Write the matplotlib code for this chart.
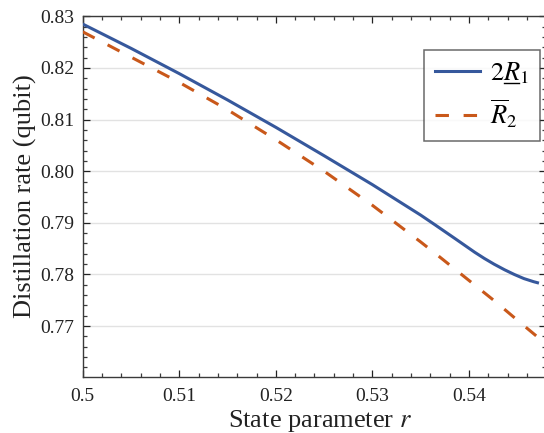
import matplotlib
matplotlib.use("Agg")
import matplotlib.pyplot as plt
from matplotlib.lines import Line2D
import numpy as np

# Values
r_vals = [0.500, 0.505, 0.510, 0.515, 0.520, 0.525, 0.530, 0.535, 0.5365,
          0.5386, 0.5406, 0.5416, 0.5426, 0.5437, 0.5447, 0.5457, 0.5467, 0.5471]
rate_2R1 = [0.8285, 0.8238, 0.8189, 0.8138, 0.8085, 0.8030, 0.7974, 0.7915, 0.7896,
            0.7869, 0.7843, 0.7831, 0.7820, 0.7809, 0.7800, 0.7792, 0.7786, 0.7784]

r_vals_2 = [0.500, 0.505, 0.510, 0.515, 0.520, 0.525, 0.530, 0.535, 0.5367,
            0.5387, 0.5409, 0.5427, 0.5453, 0.5471]
rate_R2 = [0.8270, 0.8221, 0.8172, 0.8119, 0.8061, 0.8000, 0.7934, 0.7863, 0.7838,
           0.7808, 0.7775, 0.7748, 0.7707, 0.7679]

x_ticks = [0.50, 0.51, 0.52, 0.53, 0.54]
x_tick_labels = ["0.5", "0.51", "0.52", "0.53", "0.54"]
y_ticks = [0.77, 0.78, 0.79, 0.80, 0.81, 0.82, 0.83]
y_tick_labels = ["0.77", "0.78", "0.79", "0.80", "0.81", "0.82", "0.83"]

plt.rcParams['font.family'] = ['Liberation Serif', 'DejaVu Serif']
plt.rcParams['mathtext.fontset'] = 'stix'

blue = '#36589c'
orange = '#c9581a'
spine_col = '#3a3a3a'

fig = plt.figure(figsize=(5.44, 4.33), dpi=100)
ax = fig.add_axes([82.7/544, 1 - 376.7/433, 1 - 82.7/544 + 0.004, (376.7 - 16.3)/433])

ax.plot(r_vals, rate_2R1, color=blue, lw=2.2, label=r'$2R_1$', zorder=3)
ax.plot(r_vals_2, rate_R2, color=orange, lw=2.2, dashes=(4.4, 4.8),
        label=r'$\overline{R}_2$', zorder=3)

ax.set_xlim(0.5, 0.5471 + 0.0004)
ax.set_ylim(0.7602, 0.83)

ax.set_xticks(x_ticks)
ax.set_xticklabels(x_tick_labels)
ax.set_yticks(y_ticks)
ax.set_yticklabels(y_tick_labels)
ax.set_xticks(np.arange(0.5, 0.548, 0.002), minor=True)
ax.set_yticks(np.arange(0.762, 0.8301, 0.002), minor=True)

ax.tick_params(which='both', direction='in', top=True, right=True, color=spine_col, width=0.9)
ax.tick_params(which='major', length=5, labelsize=14, colors='#222222')
ax.tick_params(which='minor', length=2.8)
ax.tick_params(axis='x', pad=8)
ax.tick_params(axis='y', pad=6)

for s in ax.spines.values():
    s.set_color(spine_col)
    s.set_linewidth(1.0)

ax.yaxis.grid(True, which='major', color='#e2e2e2', lw=1.0, zorder=0)
ax.set_axisbelow(True)

ax.set_xlabel(r'State parameter $r$', fontsize=19, color='#222222')
ax.xaxis.set_label_coords(0.512, -0.086)
ax.set_ylabel('Distillation rate (qubit)', fontsize=19, color='#222222', va='center')
ax.yaxis.set_label_coords(-0.124, 0.5)

leg = ax.legend(loc='upper right', bbox_to_anchor=(0.986, 0.907), borderaxespad=0,
                fontsize=19, frameon=True, fancybox=False, handlelength=1.7,
                handletextpad=0.4, borderpad=0.4, labelspacing=0.45)
leg.get_frame().set_edgecolor('#444444')
leg.get_frame().set_linewidth(1.1)

# mathtext has no \underline, so draw the bar under R by hand
fig.canvas.draw()
renderer = fig.canvas.get_renderer()
t = leg.get_texts()[0]
prop = t.get_fontproperties()
bb = t.get_window_extent(renderer)
_, _, d_full = renderer.get_text_width_height_descent(t.get_text(), prop, ismath=True)
w2, _, _ = renderer.get_text_width_height_descent(r'$2$', prop, ismath=True)
w2R, _, _ = renderer.get_text_width_height_descent(r'$2R$', prop, ismath=True)
base = bb.y0 + d_full
y_line = base - 2.5
W, H = fig.bbox.width, fig.bbox.height
fig.add_artist(Line2D([(bb.x0 + w2 - 1) / W, (bb.x0 + w2R - 2) / W], [y_line / H, y_line / H],
                      color='black', lw=1.0))

fig.savefig('out.png', dpi=100)
